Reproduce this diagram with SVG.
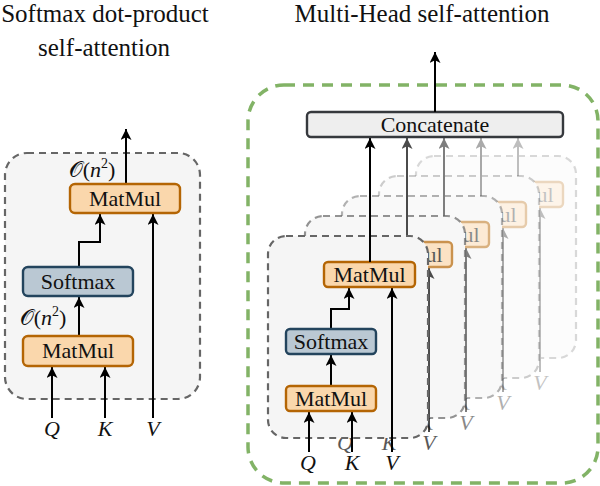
<svg xmlns="http://www.w3.org/2000/svg" xmlns:xlink="http://www.w3.org/1999/xlink" width="600" height="486" viewBox="0 0 600 486">
<style>
.hbox{fill:#f5f5f5;stroke:#666;stroke-width:2.2;stroke-dasharray:7 5;}
.mm{fill:#fad7ac;stroke:#b46504;stroke-width:2.4;}
.sm{fill:#bac8d3;stroke:#23445d;stroke-width:2.4;}
.cc{fill:#eeeeee;stroke:#36393d;stroke-width:2.4;}
.ar{fill:none;stroke:#000;stroke-width:2;marker-end:url(#ah);}
.green{fill:none;stroke:#82b366;stroke-width:3.5;stroke-dasharray:11 8;}
</style>
<defs>
<marker id="ah" viewBox="0 0 10 10" refX="10" refY="5" markerWidth="5.5" markerHeight="5.5" orient="auto" markerUnits="strokeWidth">
<path d="M0,0 L10,5 L0,10 L2.5,5 z" fill="#000"/>
</marker>
<g id="headTpl">
<rect class="hbox" x="268" y="236" width="160" height="202" rx="18"/>
<g class="conn">
<path class="ar" d="M309,452 V412"/>
<path class="ar" d="M352,452 V412"/>
<path class="ar" d="M392,452 V288"/>
<path class="ar" d="M331,386 V355"/>
<path class="ar" d="M331,329 V309 H349 V288"/>
</g>
<rect class="mm" x="324" y="262" width="91" height="25" rx="4"/>
<text x="369.5" y="282" font-family="Liberation Serif" font-size="22" text-anchor="middle" fill="#111">MatMul</text>
<rect class="sm" x="286" y="329" width="90" height="25" rx="4"/>
<text x="331" y="349" font-family="Liberation Serif" font-size="22" text-anchor="middle" fill="#111">Softmax</text>
<rect class="mm" x="286" y="386" width="90" height="25" rx="4"/>
<text x="331" y="406" font-family="Liberation Serif" font-size="22" text-anchor="middle" fill="#111">MatMul</text>
<text x="308" y="470" font-family="Liberation Serif" font-size="22" font-style="italic" text-anchor="middle" fill="#111">Q</text>
<text x="352" y="470" font-family="Liberation Serif" font-size="22" font-style="italic" text-anchor="middle" fill="#111">K</text>
<text x="392" y="470" font-family="Liberation Serif" font-size="22" font-style="italic" text-anchor="middle" fill="#111">V</text>
</g>
</defs>

<text x="105" y="22" font-family="Liberation Serif" font-size="25" text-anchor="middle" fill="#111">Softmax dot-product</text>
<text x="104" y="56" font-family="Liberation Serif" font-size="25" text-anchor="middle" fill="#111">self-attention</text>
<text x="422" y="22" font-family="Liberation Serif" font-size="25" text-anchor="middle" fill="#111">Multi-Head self-attention</text>

<g id="single-head">
<rect class="hbox" x="5" y="153" width="195" height="246" rx="22"/>
<g id="single-connectors">
<path class="ar" d="M52,418 V367"/>
<path class="ar" d="M105,418 V367"/>
<path class="ar" d="M153,418 V214"/>
<path class="ar" d="M79,336 V297"/>
<path class="ar" d="M79,267 V242 H100 V214"/>
<path class="ar" d="M126,184 V129"/>
</g>
<g id="s-matmul-top">
<rect class="mm" x="70" y="184" width="110" height="29" rx="5"/>
<text x="125" y="206" font-family="Liberation Serif" font-size="22" text-anchor="middle" fill="#111">MatMul</text>
</g>
<g id="s-softmax">
<rect class="sm" x="23" y="267" width="110" height="29" rx="5"/>
<text x="78" y="289" font-family="Liberation Serif" font-size="22" text-anchor="middle" fill="#111">Softmax</text>
</g>
<g id="s-matmul-bottom">
<rect class="mm" x="23" y="336" width="110" height="30" rx="5"/>
<text x="78" y="358" font-family="Liberation Serif" font-size="22" text-anchor="middle" fill="#111">MatMul</text>
</g>
<text x="92" y="177" font-family="Liberation Serif" font-size="22" text-anchor="middle" fill="#111">𝒪(<tspan font-style="italic">n</tspan><tspan font-size="14" dy="-9">2</tspan><tspan dy="9">)</tspan></text>
<text x="43" y="325" font-family="Liberation Serif" font-size="22" text-anchor="middle" fill="#111">𝒪(<tspan font-style="italic">n</tspan><tspan font-size="14" dy="-9">2</tspan><tspan dy="9">)</tspan></text>
<text x="52" y="436" font-family="Liberation Serif" font-size="22" font-style="italic" text-anchor="middle" fill="#111">Q</text>
<text x="105" y="436" font-family="Liberation Serif" font-size="22" font-style="italic" text-anchor="middle" fill="#111">K</text>
<text x="153" y="436" font-family="Liberation Serif" font-size="22" font-style="italic" text-anchor="middle" fill="#111">V</text>
</g>

<g id="multi-head">
<rect class="green" x="248" y="85" width="350" height="398" rx="36"/>
<g id="head5" transform="translate(148,-80)">
<rect x="268" y="236" width="160" height="202" rx="18" fill="#fff"/>
<g opacity="0.25"><use xlink:href="#headTpl"/><path class="ar" d="M370,262 V218"/></g>
</g>
<g id="head4" transform="translate(111,-60)">
<rect x="268" y="236" width="160" height="202" rx="18" fill="#fff"/>
<g opacity="0.33"><use xlink:href="#headTpl"/><path class="ar" d="M370,262 V198"/></g>
</g>
<g id="head3" transform="translate(74,-40)">
<rect x="268" y="236" width="160" height="202" rx="18" fill="#fff"/>
<g opacity="0.5"><use xlink:href="#headTpl"/><path class="ar" d="M370,262 V178"/></g>
</g>
<g id="head2" transform="translate(37,-20)">
<rect x="268" y="236" width="160" height="202" rx="18" fill="#fff"/>
<g opacity="0.7"><use xlink:href="#headTpl"/><path class="ar" d="M370,262 V158"/></g>
</g>
<g id="head1">
<use xlink:href="#headTpl"/>
<path class="ar" d="M370,262 V138"/>
</g>
<g id="concatenate">
<rect class="cc" x="307" y="112" width="256" height="25" rx="4"/>
<text x="435" y="132" font-family="Liberation Serif" font-size="22" text-anchor="middle" fill="#111">Concatenate</text>
</g>
<g id="multi-connectors">
<path class="ar" d="M435,112 V52"/>
</g>
</g>
</svg>
